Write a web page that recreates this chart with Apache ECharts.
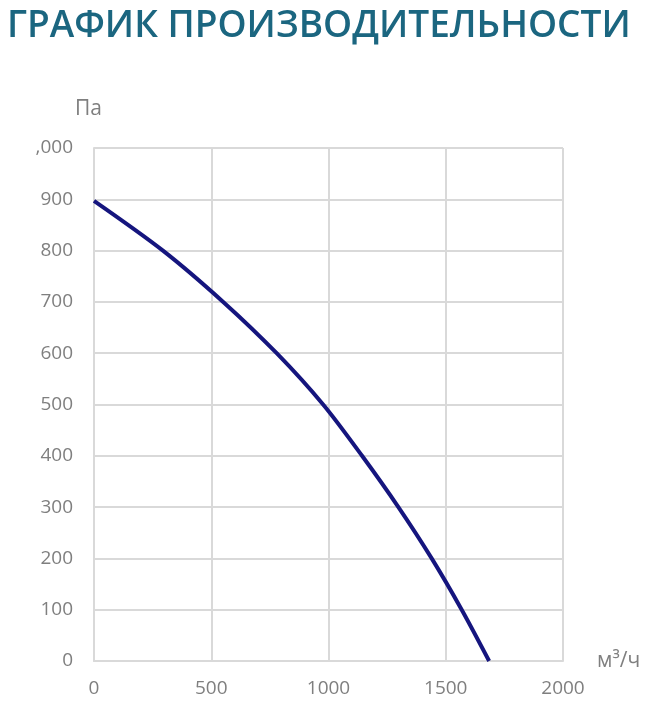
<!DOCTYPE html>
<html>
<head>
<meta charset="utf-8">
<script src="https://cdn.jsdelivr.net/npm/echarts@6/dist/echarts.min.js"></script>
<style>
html,body{margin:0;padding:0;background:#fff;}
#chart{width:652px;height:711px;}
</style>
</head>
<body>
<div id="chart"></div>
<script>
const titleText = 'ГРАФИК ПРОИЗВОДИТЕЛЬНОСТИ';
const xAxisName = 'м³/ч';
const yAxisName = 'Па';
const flow = [0, 294, 551, 779, 977, 1143, 1298, 1440, 1568, 1685];
const pressure = [897, 800, 700, 600, 500, 400, 300, 200, 100, 0];
const yTickLabels = {1000: '1,000'};

const chart = echarts.init(document.getElementById('chart'));
const labelColor = '#7f7f7f';
const gridColor = '#d9d9d9';
const font = 'Open Sans';
chart.setOption({
  animation: false,
  backgroundColor: '#fff',
  title: {
    text: titleText,
    left: 2, top: 3,
    textStyle: {fontFamily: font, fontWeight: 600, fontSize: 37, color: '#1b6680'}
  },
  graphic: [{
    type: 'rect', z: 100,
    shape: {x: 0, y: 134, width: 36, height: 28},
    style: {fill: '#fff'}
  }],
  grid: {left: 94, right: 89, top: 148, bottom: 50, containLabel: false},
  xAxis: {
    type: 'value', min: 0, max: 2000, interval: 500,
    name: xAxisName, nameLocation: 'end', nameGap: 34,
    nameTextStyle: {color: labelColor, fontSize: 21, fontFamily: font, verticalAlign: 'middle'},
    axisLine: {show: true, lineStyle: {color: gridColor, width: 2}},
    axisTick: {show: false},
    axisLabel: {color: labelColor, fontSize: 19, fontFamily: font, margin: 18,
      formatter: v => String(v)},
    splitLine: {show: true, lineStyle: {color: gridColor, width: 2}}
  },
  yAxis: {
    type: 'value', min: 0, max: 1000, interval: 100,
    name: yAxisName, nameLocation: 'end', nameGap: 28,
    nameTextStyle: {color: labelColor, fontSize: 21, fontFamily: font, align: 'left', padding: [0, 0, 0, -19]},
    axisLine: {show: true, lineStyle: {color: gridColor, width: 2}},
    axisTick: {show: false},
    axisLabel: {color: labelColor, fontSize: 19, fontFamily: font, margin: 21,
      formatter: v => yTickLabels[v] || String(v)},
    splitLine: {show: true, lineStyle: {color: gridColor, width: 2}}
  },
  series: [{
    type: 'line', smooth: 0.3, symbol: 'none',
    data: flow.map((x, i) => [x, pressure[i]]),
    lineStyle: {color: '#15157e', width: 4}
  }]
});
</script>
</body>
</html>
